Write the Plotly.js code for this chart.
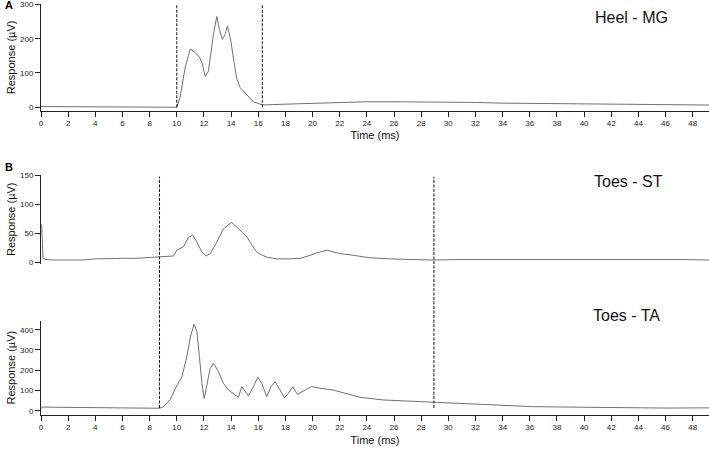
<!DOCTYPE html>
<html>
<head>
<meta charset="utf-8">
<script src="https://cdn.plot.ly/plotly-3.0.1.min.js"></script>
<style>
  html, body { margin: 0; padding: 0; background: #fff; }
  #plot { width: 709px; height: 449px; }
</style>
</head>
<body>
<div id="plot"></div>
<script>
// Heel - MG
const tHeel = [0, 2, 4, 6, 8, 9, 9.9, 10.0, 10.25, 10.62, 10.86, 11.0, 11.35, 11.67, 11.85, 12.09, 12.33, 12.51, 12.7, 12.95, 13.14, 13.36, 13.56, 13.73, 13.98, 14.22, 14.42, 14.67, 15.16, 15.64, 16.14, 16.3, 16.5, 18, 20, 22, 24, 26, 28, 30, 32, 34, 36, 38, 40, 42, 44, 46, 48, 49.2];
const vHeel = [2, 2, 1, 1, 1, 1, 1, 0, 30, 117, 150, 170, 160, 146, 131, 90, 105, 165, 213, 265, 227, 198, 213, 237, 194, 131, 83, 57, 35, 16, 9, 8, 7, 9, 12, 15, 16, 16, 16, 15, 14, 12, 11, 10, 9, 8, 8, 7, 6.5, 6.5];

// Toes - ST
const tST = [0, 0.05, 0.15, 0.3, 1, 2, 3, 4, 5, 6, 7, 8, 8.73, 9.3, 9.76, 10.0, 10.5, 10.86, 11.18, 11.48, 11.85, 12.14, 12.46, 12.95, 13.44, 14.05, 14.67, 15.16, 15.77, 16.14, 16.63, 17.37, 18.2, 19.08, 19.82, 20.4, 21.05, 22.0, 22.76, 23.5, 24.2, 25.7, 27, 28.9, 31, 33, 35, 37, 39, 41, 43, 45, 47, 49.2];
const vST = [66, 64, 7, 5, 4, 4, 4, 6, 7, 7, 7, 8, 9, 10, 11, 21, 27, 43, 47, 35, 18, 11, 15, 35, 58, 69, 55, 44, 21, 14, 9, 6, 6, 7, 12, 17, 21, 15, 13, 10, 8, 6, 5, 4, 5, 5, 6, 5, 5, 5, 5, 5, 5, 4];

// Toes - TA
const tTA = [0, 0.1, 1, 2, 4, 6, 8, 8.73, 9.02, 9.51, 10.0, 10.37, 10.74, 11.04, 11.28, 11.48, 11.67, 11.85, 12.02, 12.26, 12.46, 12.70, 13.07, 13.44, 13.80, 14.30, 14.54, 14.79, 15.03, 15.28, 15.64, 15.97, 16.26, 16.63, 16.92, 17.24, 17.61, 17.93, 18.22, 18.54, 18.88, 19.2, 19.57, 19.94, 20.55, 21.53, 22.5, 23.5, 25.2, 27.7, 28.9, 32.6, 36.2, 39.9, 43.6, 46, 49.2];
const vTA = [12, 18, 17, 16, 14, 13, 12, 12, 20, 53, 125, 165, 267, 374, 428, 390, 267, 135, 61, 152, 209, 234, 193, 135, 102, 78, 66, 119, 94, 73, 119, 165, 135, 69, 116, 143, 102, 64, 86, 119, 81, 94, 106, 119, 111, 102, 86, 66, 53, 45, 40, 28, 20, 17, 13, 13, 14];

// analysis windows (ms)
const windowHeel = [10.0, 16.3];
const windowToes = [8.73, 28.94];

const labels = ['Heel - MG', 'Toes - ST', 'Toes - TA'];

const lineStyle = { color: '#707070', width: 1 };
const font = 'Liberation Sans, Arial, sans-serif';

const traces = [
  { x: tHeel, y: vHeel, xaxis: 'x', yaxis: 'y', mode: 'lines', line: lineStyle, hoverinfo: 'none' },
  { x: tST, y: vST, xaxis: 'x2', yaxis: 'y2', mode: 'lines', line: lineStyle, hoverinfo: 'none' },
  { x: tTA, y: vTA, xaxis: 'x3', yaxis: 'y3', mode: 'lines', line: lineStyle, hoverinfo: 'none' }
];

const tickFont = { family: font, size: 8, color: '#222' };

function xAxis(anchor, show) {
  return {
    anchor: anchor, domain: [0, 1], range: [0, 49.2],
    dtick: 2, tick0: 0, ticks: 'outside', ticklen: 5, tickcolor: '#222',
    showline: show, linecolor: '#222', linewidth: 1,
    showticklabels: show, visible: show,
    showgrid: false, zeroline: false, tickfont: tickFont,
    title: show ? { text: 'Time (ms)', font: { family: font, size: 11, color: '#111' }, standoff: 4 } : undefined
  };
}

function yAxis(anchor, domain, range, dtick) {
  return {
    anchor: anchor, domain: domain, range: range, dtick: dtick, tick0: 0,
    ticks: 'outside', ticklen: 5, tickcolor: '#222',
    showline: true, linecolor: '#222', linewidth: 1,
    showgrid: false, zeroline: false, tickfont: tickFont,
    ticklabeloverflow: 'allow',
    title: { text: 'Response (µV)', font: { family: font, size: 11, color: '#111' }, standoff: 2 }
  };
}

const dash = { color: '#111', width: 1, dash: '3px,1.5px' };
const shapes = [
  ...windowHeel.map(t => ({ type: 'line', xref: 'x', yref: 'y', x0: t, x1: t, y0: 0, y1: 300, line: dash })),
  ...windowToes.map(t => ({ type: 'line', xref: 'x3', yref: 'paper', x0: t, x1: t, y0: 0.0913, y1: 0.6065, line: dash }))
];

const annotations = [
  { text: labels[0], xref: 'paper', yref: 'paper', x: 0.884, y: 0.96, xanchor: 'center', yanchor: 'middle', showarrow: false, font: { family: font, size: 16, color: '#111' } },
  { text: labels[1], xref: 'paper', yref: 'paper', x: 0.88, y: 0.595, xanchor: 'center', yanchor: 'middle', showarrow: false, font: { family: font, size: 16, color: '#111' } },
  { text: labels[2], xref: 'paper', yref: 'paper', x: 0.877, y: 0.298, xanchor: 'center', yanchor: 'middle', showarrow: false, font: { family: font, size: 16, color: '#111' } },
  { text: '<b>A</b>', xref: 'paper', yref: 'paper', x: -0.0575, y: 0.988, xanchor: 'left', yanchor: 'middle', showarrow: false, font: { family: font, size: 11, color: '#000' } },
  { text: '<b>B</b>', xref: 'paper', yref: 'paper', x: -0.0575, y: 0.628, xanchor: 'left', yanchor: 'middle', showarrow: false, font: { family: font, size: 11, color: '#000' } }
];

Plotly.newPlot('plot', traces, {
  width: 709, height: 449,
  margin: { l: 41, r: 0, t: 0, b: 0 },
  paper_bgcolor: '#fff', plot_bgcolor: '#fff',
  showlegend: false,
  xaxis: xAxis('y', true),
  xaxis2: Object.assign(xAxis('y2', false), { matches: 'x' }),
  xaxis3: Object.assign(xAxis('y3', true), { matches: 'x' }),
  yaxis: yAxis('x', [0.7535, 0.9908], [-10, 301], 100),
  yaxis2: yAxis('x2', [0.4131, 0.6102], [-2, 150.5], 50),
  yaxis3: yAxis('x3', [0.0763, 0.2860], [-20, 445], 100),
  shapes: shapes,
  annotations: annotations
}, { displayModeBar: false, staticPlot: true });
</script>
</body>
</html>
